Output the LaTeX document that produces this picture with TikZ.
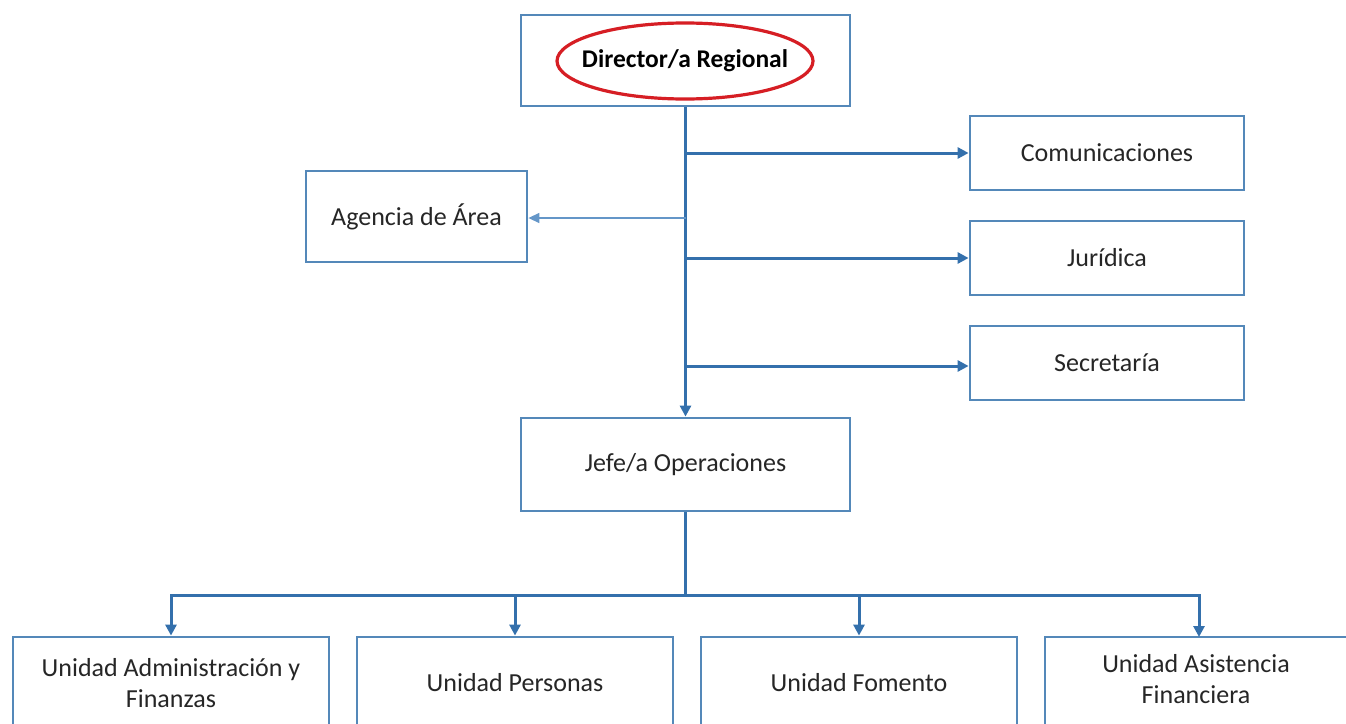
\documentclass[tikz,border=0pt]{standalone}
\usepackage{fontspec}
\setmainfont{Carlito}
\usetikzlibrary{arrows.meta,shapes.geometric}
\definecolor{boxc}{RGB}{84,136,185}
\definecolor{linec}{RGB}{52,112,172}
\definecolor{thinc}{RGB}{100,150,200}
\definecolor{redc}{RGB}{214,30,36}
\tikzset{
  box/.style={draw=boxc, line width=2.8pt, fill=white, inner sep=0pt, align=center, font=\fontsize{26}{31}\selectfont, text=black!85},
  arr/.style={draw=linec, line width=3pt, -{Triangle[length=11pt,width=11pt]}},
  ln/.style={draw=linec, line width=3pt},
  thinarr/.style={draw=thinc, line width=1.4pt, -{Triangle[length=11pt,width=10pt]}}
}
\begin{document}
\begin{tikzpicture}[x=1pt,y=-1pt]
\useasboundingbox (0,0) rectangle (1346,723);
\clip (0,0) rectangle (1346,723);
\node[box, minimum width=329pt, minimum height=91pt] (dir) at (685.5,60.5) {};
\node[inner sep=0pt, font=\fontsize{25.5}{30}\selectfont\bfseries] (dirl) at (685,61) {Director/a Regional};
\draw[draw=redc, line width=3.2pt] (dirl.center) ellipse [x radius=128pt, y radius=38pt];
\node[box, minimum width=274pt, minimum height=74pt] (com) at (1107,153) {Comunicaciones};
\node[box, minimum width=274pt, minimum height=74pt] (jur) at (1107,258) {Jurídica};
\node[box, minimum width=274pt, minimum height=74pt] (sec) at (1107,363) {Secretaría};
\node[box, minimum width=221pt, minimum height=91pt] (age) at (416.5,216.5) {Agencia de Área};
\node[box, minimum width=329pt, minimum height=93pt] (jefe) at (685.5,464.5) {Jefe/a Operaciones};
\node[box, minimum width=316pt, minimum height=92pt] (u1) at (171,683) {Unidad Administración y\\Finanzas};
\node[box, minimum width=316pt, minimum height=92pt] (u2) at (515,683) {Unidad Personas};
\node[box, minimum width=316pt, minimum height=92pt] (u3) at (859,683) {Unidad Fomento};
\node[box, minimum width=316pt, minimum height=92pt] (u4) at (1203,683) {};
\node[font=\fontsize{26}{31}\selectfont, text=black!85, align=center] (u4t) at (1196,679) {Unidad Asistencia\\Financiera};
\coordinate (b1) at (685.5,153);
\coordinate (b2) at (685.5,218);
\coordinate (b3) at (685.5,258);
\coordinate (b4) at (685.5,366);
\coordinate (hub) at (685.5,595);
\coordinate (u4top) at (1199,637);
\draw[arr] (dir.south) -- (jefe.north);
\draw[arr] (b1) -- (com.west);
\draw[arr] (b3) -- (jur.west);
\draw[arr] (b4) -- (b4 -| sec.west);
\draw[thinarr] (b2) -- (b2 -| age.east);
\draw[ln] (jefe.south) -- (hub);
\draw[arr] (hub) -| (u1.north);
\draw[arr] (hub) -| (u2.north);
\draw[arr] (hub) -| (u3.north);
\draw[arr] (hub) -| (u4top);
\end{tikzpicture}
\end{document}
